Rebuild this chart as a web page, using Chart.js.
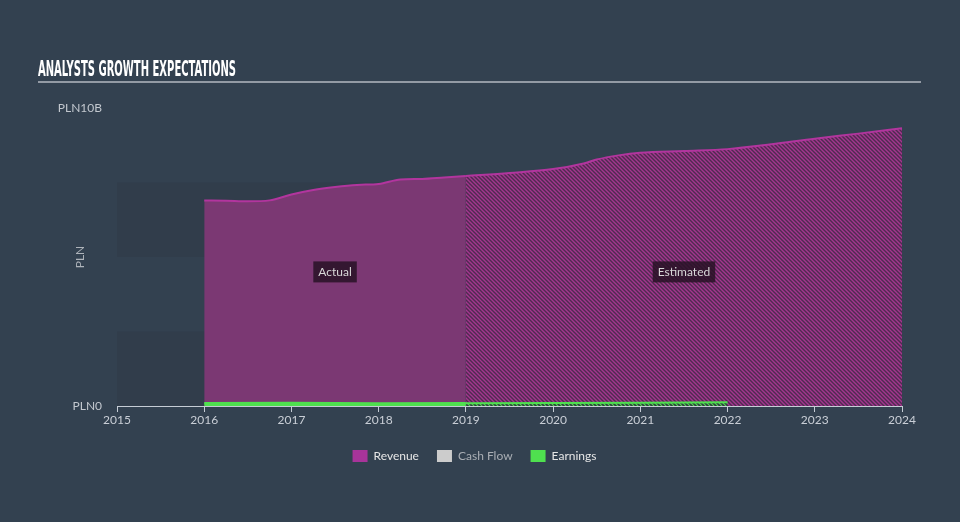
<!DOCTYPE html>
<html><head><meta charset="utf-8">
<script src="https://cdn.jsdelivr.net/npm/chart.js@4.4.1/dist/chart.umd.min.js"></script>
<style>html,body{margin:0;padding:0;background:#334150;}#wrap{width:960px;height:522px;}</style>
</head><body><div id="wrap"><canvas id="c" width="960" height="522"></canvas></div>
<script>
const titleText = 'ANALYSTS GROWTH EXPECTATIONS';
const xTickYears = [2015,2016,2017,2018,2019,2020,2021,2022,2023,2024];
const yTickLabels = ['PLN0','PLN10B'];
const revenueActualX = [2016,2016.25,2016.5,2016.75,2017,2017.25,2017.5,2017.75,2018,2018.25,2018.5,2018.75,2019];
const revenueActual  = [6.90,6.89,6.87,6.90,7.10,7.25,7.35,7.42,7.45,7.60,7.62,7.67,7.72];
const revenueEstX = [2019,2019.5,2020,2020.35,2020.5,2020.75,2021,2021.5,2022,2022.5,2023,2023.5,2024];
const revenueEst  = [7.72,7.82,7.95,8.14,8.27,8.41,8.50,8.56,8.62,8.78,8.97,9.14,9.32];
const earningsActualX = [2016,2017,2018,2019];
const earningsActual  = [0.09,0.10,0.08,0.09];
const earningsEstX = [2019,2020,2021,2022];
const earningsEst  = [0.09,0.10,0.11,0.13];
const legendNames = ['Revenue','Cash Flow','Earnings'];
const bandRanges = [[0,2.5],[5,7.5]];
const periodLabels = [{text:'Actual', x:2017.5, y:4.5},{text:'Estimated', x:2021.5, y:4.5}];

function pts(xs, ys){ return xs.map((x,i)=>({x:x, y:ys[i]})); }
function hatch(bg, fg, s, lw){
  const c=document.createElement('canvas'); c.width=s; c.height=s;
  const g=c.getContext('2d'); g.fillStyle=bg; g.fillRect(0,0,s,s);
  g.strokeStyle=fg; g.lineWidth=lw; g.beginPath();
  g.moveTo(-s,0); g.lineTo(s,2*s);
  g.moveTo(0,-s); g.lineTo(2*s,s);
  g.moveTo(-s,-s); g.lineTo(2*s,2*s);
  g.stroke();
  return g.createPattern(c,'repeat');
}
const cv=document.getElementById('c');
const revPattern = hatch('#4f2b50','#a4368f',4,1.4);
const earnPattern = hatch('#2f3a40','#50d850',4,1.2);

const bgPlugin = {
  id:'bg',
  beforeDraw(chart){
    const ctx=chart.ctx; ctx.save();
    ctx.fillStyle='#334150'; ctx.fillRect(0,0,chart.width,chart.height);
    ctx.font='bold 21px "Liberation Sans Narrow", "DejaVu Sans Condensed", sans-serif';
    ctx.fillStyle='#ffffff'; ctx.textBaseline='alphabetic';
    const w=ctx.measureText(titleText).width;
    ctx.translate(38,75.5); ctx.scale(198/w,1); ctx.fillText(titleText,0,0);
    ctx.restore();
    ctx.save(); ctx.strokeStyle='#b4b9c0'; ctx.lineWidth=1.5;
    ctx.beginPath(); ctx.moveTo(38,82); ctx.lineTo(921,82); ctx.stroke(); ctx.restore();
  },
  beforeDatasetsDraw(chart){
    const ctx=chart.ctx, xs=chart.scales.x, ys=chart.scales.y;
    ctx.save(); ctx.fillStyle='#313d4b';
    const l=xs.getPixelForValue(2015), r=xs.getPixelForValue(2024);
    bandRanges.forEach(b=>{
      const t=ys.getPixelForValue(b[1]), bt=ys.getPixelForValue(b[0]);
      ctx.fillRect(l,t,r-l,bt-t);
    });
    ctx.restore();
  },
  afterDatasetsDraw(chart){
    const ctx=chart.ctx, xs=chart.scales.x, ys=chart.scales.y;
    ctx.save();
    ctx.font='12px Lato, "Open Sans", sans-serif';
    ctx.textAlign='center'; ctx.textBaseline='middle';
    periodLabels.forEach(p=>{
      const px=xs.getPixelForValue(p.x), py=ys.getPixelForValue(p.y);
      const w=ctx.measureText(p.text).width+10;
      ctx.fillStyle='rgba(40,18,38,0.85)';
      ctx.fillRect(px-w/2,py-10.5,w,21);
      ctx.fillStyle='#d8d8d8'; ctx.fillText(p.text,px,py+0.5);
    });
    ctx.restore();
  }
};

const legendColors = ['#a8349a','#cccccc','#4fe04f'];
const legendFontColors = ['#e6e6e6','#a9aeb4','#e6e6e6'];

new Chart(cv, {
  type:'line',
  data:{ datasets:[
    {label:'Earnings', data:pts(earningsActualX,earningsActual), borderColor:'#4fe04f', backgroundColor:'#4fe04f', borderWidth:2.5, fill:'origin', pointRadius:0, order:0},
    {label:'Earnings est', data:pts(earningsEstX,earningsEst), borderColor:'#4fe04f', backgroundColor:earnPattern, borderWidth:2, fill:'origin', pointRadius:0, order:1},
    {label:'Revenue', data:pts(revenueActualX,revenueActual), borderColor:'#b2359e', backgroundColor:'#7b3873', borderWidth:2, fill:'origin', pointRadius:0, cubicInterpolationMode:'monotone', order:2},
    {label:'Revenue est', data:pts(revenueEstX,revenueEst), borderColor:'#b2359e', backgroundColor:revPattern, borderWidth:2, fill:'origin', pointRadius:0, cubicInterpolationMode:'monotone', order:3},
    {label:'Cash Flow', data:[], borderColor:'#cccccc', backgroundColor:'#cccccc', pointRadius:0, order:4}
  ]},
  options:{
    responsive:false, animation:false, events:[],
    layout:{padding:{left:0, right:11, top:108, bottom:50}},
    plugins:{
      tooltip:{enabled:false},
      title:{display:false},
      legend:{
        position:'bottom',
        labels:{
          boxWidth:15, boxHeight:12, padding:18,
          font:{size:12, family:'Lato, "Open Sans", sans-serif'},
          color:'#e6e6e6',
          generateLabels:()=>legendNames.map((n,i)=>({text:n, fillStyle:legendColors[i], strokeStyle:legendColors[i], lineWidth:0, fontColor:legendFontColors[i], hidden:false, datasetIndex:i}))
        }
      }
    },
    scales:{
      x:{type:'linear', min:2015, max:2024,
        afterBuildTicks:s=>{ s.ticks = xTickYears.map(v=>({value:v})); },
        ticks:{callback:v=>String(v), color:'#c9ced6', font:{size:12, family:'Lato, "Open Sans", sans-serif'}, padding:1, maxRotation:0, autoSkip:false},
        grid:{display:true, drawOnChartArea:false, drawTicks:true, tickLength:6, color:'#c5ccd5'},
        border:{display:true, color:'#c5ccd5', width:1},
        afterFit:s=>{ s.height=26; }
      },
      y:{min:0, max:10,
        afterBuildTicks:s=>{ s.ticks=[{value:0},{value:10}]; },
        ticks:{callback:v=> v===0?yTickLabels[0]:yTickLabels[1], padding:15, color:'#c2c7ce', font:{size:12, family:'Lato, "Open Sans", sans-serif'}},
        grid:{display:false, drawTicks:false}, border:{display:false},
        title:{display:true, text:'PLN', color:'#aeb3ba', font:{size:12, family:'Lato, "Open Sans", sans-serif'}, padding:{top:73,bottom:4}},
        afterFit:s=>{ s.width=117; }
      },
      yRight:{position:'right', display:true, min:0, max:10,
        ticks:{display:false}, grid:{display:false, drawTicks:false}, border:{display:false},
        afterFit:s=>{ s.width=47; }
      }
    }
  },
  plugins:[bgPlugin]
});
</script></body></html>
